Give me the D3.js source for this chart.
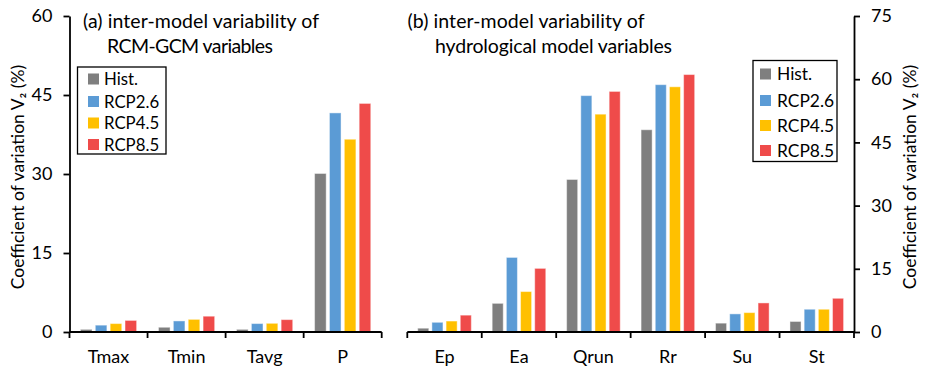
<!DOCTYPE html>
<html>
<head>
<meta charset="utf-8">
<script src="https://cdn.jsdelivr.net/npm/d3@7"></script>
<style>
  html, body { margin: 0; padding: 0; background: #fff; }
  svg { display: block; font-family: Lato, "Open Sans", sans-serif; }
</style>
</head>
<body>
<svg id="chart" width="928" height="376"></svg>
<script>
// ---- data ----
const seriesNames = ["Hist.", "RCP2.6", "RCP4.5", "RCP8.5"];
const seriesColors = ["#7f7f7f", "#5b9bd5", "#ffc000", "#ef4b4a"];

const catsA = ["Tmax", "Tmin", "Tavg", "P"];
const histA = [0.5, 0.9, 0.5, 30.1];
const rcp26A = [1.3, 2.1, 1.6, 41.6];
const rcp45A = [1.6, 2.4, 1.65, 36.6];
const rcp85A = [2.2, 3.0, 2.35, 43.4];
const ticksA = [0, 15, 30, 45, 60];

const catsB = ["Ep", "Ea", "Qrun", "Rr", "Su", "St"];
const histB = [0.9, 6.8, 36.2, 48.0, 2.1, 2.5];
const rcp26B = [2.3, 17.7, 56.1, 58.7, 4.3, 5.4];
const rcp45B = [2.6, 9.6, 51.7, 58.2, 4.6, 5.4];
const rcp85B = [4.0, 15.1, 57.1, 61.1, 6.9, 8.0];
const ticksB = [0, 15, 30, 45, 60, 75];

const titleA = ["(a) inter-model variability of", "RCM-GCM variables"];
const titleB = ["(b) inter-model variability of", "hydrological model variables"];
const yTitle = "Coefficient of variation V\u2082 (%)";

// ---- drawing ----
const svg = d3.select("#chart");
const y0px = 332, ytop = 16;

function panel(cats, seriesVals, ticks, xr, side) {
  const g = svg.append("g");
  const y = d3.scaleLinear().domain([0, ticks[ticks.length - 1]]).range([y0px, ytop]);
  const x0 = d3.scaleBand().domain(cats).range(xr).paddingInner(0).paddingOuter(0);
  const bw = x0.bandwidth();
  const x1 = d3.scaleBand().domain(seriesNames).range([bw * 0.14, bw * 0.86]).paddingInner(0.22).paddingOuter(0);

  cats.forEach((c, i) => {
    seriesNames.forEach((s, j) => {
      const v = seriesVals[j][i];
      g.append("rect")
        .attr("x", x0(c) + x1(s))
        .attr("y", y(v))
        .attr("width", x1.bandwidth())
        .attr("height", y(0) - y(v))
        .attr("fill", seriesColors[j])
        .attr("stroke", "#ffffff")
        .attr("stroke-opacity", 0.45)
        .attr("stroke-width", 1);
    });
  });

  const bounds = cats.map(c => x0(c)).concat([xr[1]]);
  g.append("line").attr("x1", xr[0]).attr("x2", xr[1]).attr("y1", y0px).attr("y2", y0px)
    .attr("stroke", "#000").attr("stroke-width", 1.8);
  bounds.forEach(b => {
    g.append("line").attr("x1", b).attr("x2", b).attr("y1", y0px).attr("y2", y0px + 6)
      .attr("stroke", "#000").attr("stroke-width", 1.8);
  });
  cats.forEach(c => {
    g.append("text").attr("x", x0(c) + bw / 2).attr("y", 363)
      .attr("text-anchor", "middle").attr("font-size", 18).attr("fill", "#000").text(c);
  });

  const axisX = side === "left" ? xr[0] : xr[1];
  const axis = (side === "left" ? d3.axisLeft(y) : d3.axisRight(y))
    .tickValues(ticks).tickSize(6).tickSizeOuter(0).tickPadding(11);
  const ag = g.append("g").attr("transform", `translate(${axisX},0)`).call(axis);
  ag.select(".domain").attr("stroke", "#000").attr("stroke-width", 1.8);
  ag.selectAll(".tick line").attr("stroke", "#000").attr("stroke-width", 1.8);
  ag.selectAll(".tick text").attr("font-size", 18).attr("fill", "#000")
    .attr("font-family", "Lato, 'Open Sans', sans-serif");
  return { g, x0, y };
}

panel(catsA, [histA, rcp26A, rcp45A, rcp85A], ticksA, [69.5, 381.7], "left");
panel(catsB, [histB, rcp26B, rcp45B, rcp85B], ticksB, [407.3, 854], "right");

// titles
function title(lines, x1, x2, w1, w2) {
  svg.append("text").attr("x", x1).attr("y", 28).attr("font-size", 19.5).attr("fill", "#000")
    .attr("textLength", w1).attr("lengthAdjust", "spacing").text(lines[0]);
  svg.append("text").attr("x", x2).attr("y", 52.5).attr("font-size", 19.5).attr("fill", "#000")
    .attr("textLength", w2).attr("lengthAdjust", "spacing").text(lines[1]);
}
title(titleA, 83, 107, 236, 166);
title(titleB, 407.5, 435, 237, 237);

// y titles
svg.append("text").attr("transform", "translate(24,177) rotate(-90)")
  .attr("text-anchor", "middle").attr("font-size", 17.5).attr("fill", "#000").text(yTitle);
svg.append("text").attr("transform", "translate(916,177) rotate(-90)")
  .attr("text-anchor", "middle").attr("font-size", 17.5).attr("fill", "#000").text(yTitle);

// legends
function legend(x, y, w, h, sqX, txtX, rowY, fs) {
  const lg = svg.append("g");
  lg.append("rect").attr("x", x).attr("y", y).attr("width", w).attr("height", h)
    .attr("fill", "#fff").attr("stroke", "#000").attr("stroke-width", 1.3);
  seriesNames.forEach((s, j) => {
    lg.append("rect").attr("x", sqX).attr("y", rowY[j] - 5.5).attr("width", 11).attr("height", 11)
      .attr("fill", seriesColors[j]);
    lg.append("text").attr("x", txtX).attr("y", rowY[j]).attr("dy", "0.36em")
      .attr("font-size", fs).attr("fill", "#000").text(s);
  });
}
legend(77.5, 67, 88.5, 87, 88, 104, [79, 101.5, 123, 144.5], 16.8);
legend(753, 60.5, 84, 101, 760, 777, [74, 100.5, 125.5, 150.5], 17.4);
</script>
</body>
</html>
